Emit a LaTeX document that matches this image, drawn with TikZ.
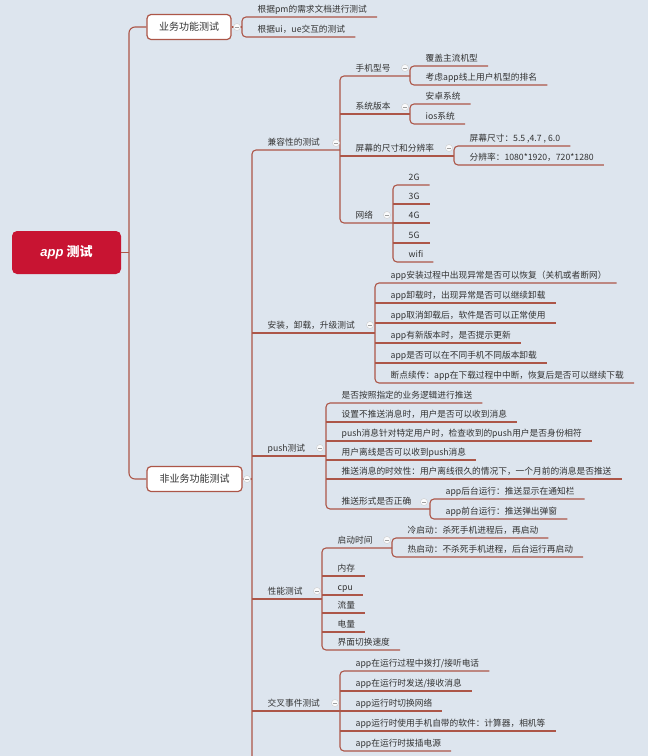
\documentclass[tikz,border=0pt]{standalone}
\usepackage{fontspec}
\setmainfont{Noto Sans CJK SC}
\newfontfamily\appfont{Liberation Sans}
\definecolor{bg}{RGB}{221,229,238}
\definecolor{lc}{RGB}{172,86,72}
\definecolor{txt}{RGB}{50,50,50}
\definecolor{rootred}{RGB}{200,20,50}
\begin{document}
\begin{tikzpicture}[x=1pt,y=-1pt,
  conn/.style={draw=lc, line width=1.1pt},
  rcorner/.style={rounded corners=4pt},
  lbl/.style={anchor=south west, inner xsep=0pt, inner ysep=2.5pt, text height=7pt, text depth=2pt,
    font=\fontsize{8.7}{10}\selectfont, text=txt, execute at begin node={\hspace*{15.5pt}}},
  leaf/.style={lbl, execute at end node={\hspace*{10pt}}},
  box/.style={draw=lc, line width=1.2pt, fill=white, rounded corners=4pt, minimum height=25pt,
    inner sep=0pt, font=\fontsize{10}{12}\selectfont, text=txt},
  rootbox/.style={fill=rootred, rounded corners=5pt, minimum width=109pt, minimum height=43pt,
    inner sep=0pt, text=white, font=\fontsize{13}{15}\selectfont\bfseries},
  tog/.style={circle, draw=gray!40, fill=white!85!bg, line width=0.4pt, minimum size=7pt, inner sep=0pt,
    path picture={\draw[gray!75, line width=0.5pt] ([xshift=-1.7pt]path picture bounding box.center) -- ([xshift=1.7pt]path picture bounding box.center);}}
]
\fill[bg] (0,0) rectangle (648,756);
\useasboundingbox (0,0) rectangle (648,756);
\clip (0,0) rectangle (648,756);

% ---------- root and level 1 ----------
\node[rootbox] (root) at (66.5,252.5) {{\appfont\bfseries\itshape app} 测试};
\node[box, minimum width=84pt] (biz) at (189,27) {业务功能测试};
\node[box, minimum width=95pt] (nonbiz) at (194.5,479) {非业务功能测试};
\coordinate (trunk) at (129,252.5);
\draw[conn] (root.east) -- (trunk);
\draw[conn, rounded corners=6pt] (biz.west) -| (trunk) |- (nonbiz.west);

% ---------- business ----------
\coordinate (bizB) at (242,27);
\draw[conn] (biz.east) -- (bizB);
\node[leaf] (b1) at (242,17) {根据pm的需求文档进行测试};
\node[leaf] (b2) at (242,37) {根据ui，ue交互的测试};
\draw[conn, rcorner] (b1.south east) -- (b1.south west) -- (b2.south west) -- (b2.south east);

% ---------- non-business ----------
\coordinate (nbB) at (252,479);
\coordinate (nbEnd) at (252,800);
\draw[conn] (nonbiz.east) -- (nbB);
\node[lbl] (compat) at (252,150) {兼容性的测试};
\node[lbl] (install) at (252,333) {安装，卸载，升级测试};
\node[lbl] (push) at (252,456) {push测试};
\node[lbl] (perf) at (252,599) {性能测试};
\node[lbl] (cross) at (252,711) {交叉事件测试};
\coordinate (compatB) at (340,150);
\coordinate (installB) at (375,333);
\coordinate (pushB) at (326,456);
\coordinate (perfB) at (322,599);
\coordinate (crossB) at (340,711);
\draw[conn, rcorner] (compatB) -- (compat.south west) -- (nbEnd);
\draw[conn] (install.south west) -- (installB);
\draw[conn] (push.south west) -- (pushB);
\draw[conn] (perf.south west) -- (perfB);
\draw[conn] (cross.south west) -- (crossB);

% ---------- compatibility ----------
\node[lbl] (phone) at (340,76) {手机型号};
\node[lbl] (sysv) at (340,114) {系统版本};
\node[lbl] (screen) at (340,156) {屏幕的尺寸和分辨率};
\node[lbl] (net) at (340,223) {网络};
\coordinate (phoneB) at (410,76);
\coordinate (sysvB) at (410,114);
\coordinate (screenB) at (454,156);
\coordinate (netB) at (393,223);
\draw[conn, rcorner] (phoneB) -- (phone.south west) -- (net.south west) -- (netB);
\draw[conn] (sysv.south west) -- (sysvB);
\draw[conn] (screen.south west) -- (screenB);

\node[leaf] (p1) at (410,66) {覆盖主流机型};
\node[leaf] (p2) at (410,85) {考虑app线上用户机型的排名};
\draw[conn, rcorner] (p1.south east) -- (p1.south west) -- (p2.south west) -- (p2.south east);

\node[leaf] (s1) at (410,104) {安卓系统};
\node[leaf] (s2) at (410,124) {ios系统};
\draw[conn, rcorner] (s1.south east) -- (s1.south west) -- (s2.south west) -- (s2.south east);

\node[leaf] (r1) at (454,146) {屏幕尺寸：5.5 ,4.7 , 6.0};
\node[leaf] (r2) at (454,165) {分辨率：1080*1920，720*1280};
\draw[conn, rcorner] (r1.south east) -- (r1.south west) -- (r2.south west) -- (r2.south east);

\node[leaf] (n1) at (393,185) {2G};
\node[leaf] (n2) at (393,204) {3G};
\node[leaf] (n3) at (393,223) {4G};
\node[leaf] (n4) at (393,243) {5G};
\node[leaf] (n5) at (393,262) {wifi};
\draw[conn, rcorner] (n1.south east) -- (n1.south west) -- (n5.south west) -- (n5.south east);
\foreach \n in {n2,n3,n4} \draw[conn] (\n.south west) -- (\n.south east);

% ---------- install ----------
\node[leaf] (i1) at (375,283) {app安装过程中出现异常是否可以恢复（关机或者断网）};
\node[leaf] (i2) at (375,303) {app卸载时，出现异常是否可以继续卸载};
\node[leaf] (i3) at (375,323) {app取消卸载后，软件是否可以正常使用};
\node[leaf] (i4) at (375,343) {app有新版本时，是否提示更新};
\node[leaf] (i5) at (375,363) {app是否可以在不同手机不同版本卸载};
\node[leaf] (i6) at (375,383) {断点续传：app在下载过程中中断，恢复后是否可以继续下载};
\draw[conn, rcorner] (i1.south east) -- (i1.south west) -- (i6.south west) -- (i6.south east);
\foreach \n in {i2,i3,i4,i5} \draw[conn] (\n.south west) -- (\n.south east);

% ---------- push ----------
\node[leaf] (u1) at (326,403) {是否按照指定的业务逻辑进行推送};
\node[leaf] (u2) at (326,422) {设置不推送消息时，用户是否可以收到消息};
\node[leaf] (u3) at (326,441) {push消息针对特定用户时，检查收到的push用户是否身份相符};
\node[leaf] (u4) at (326,460) {用户离线是否可以收到push消息};
\node[leaf] (u5) at (326,479) {推送消息的时效性：用户离线很久的情况下，一个月前的消息是否推送};
\node[lbl] (u6) at (326,509) {推送形式是否正确};
\coordinate (u6B) at (430,509);
\draw[conn, rcorner] (u1.south east) -- (u1.south west) -- (u6.south west) -- (u6B);
\foreach \n in {u2,u3,u4,u5} \draw[conn] (\n.south west) -- (\n.south east);
\node[leaf] (f1) at (430,499) {app后台运行：推送显示在通知栏};
\node[leaf] (f2) at (430,519) {app前台运行：推送弹出弹窗};
\draw[conn, rcorner] (f1.south east) -- (f1.south west) -- (f2.south west) -- (f2.south east);

% ---------- performance ----------
\node[lbl] (st) at (322,548) {启动时间};
\coordinate (stB) at (392,548);
\node[leaf] (e2) at (322,576) {内存};
\node[leaf] (e3) at (322,595) {cpu};
\node[leaf] (e4) at (322,613) {流量};
\node[leaf] (e5) at (322,632) {电量};
\node[leaf] (e6) at (322,650) {界面切换速度};
\draw[conn, rcorner] (stB) -- (st.south west) -- (e6.south west) -- (e6.south east);
\foreach \n in {e2,e3,e4,e5} \draw[conn] (\n.south west) -- (\n.south east);
\node[leaf] (c1) at (392,538) {冷启动：杀死手机进程后，再启动};
\node[leaf] (c2) at (392,557) {热启动：不杀死手机进程，后台运行再启动};
\draw[conn, rcorner] (c1.south east) -- (c1.south west) -- (c2.south west) -- (c2.south east);

% ---------- cross events ----------
\node[leaf] (x1) at (340,671) {app在运行过程中拨打/接听电话};
\node[leaf] (x2) at (340,691) {app在运行时发送/接收消息};
\node[leaf] (x3) at (340,711) {app运行时切换网络};
\node[leaf] (x4) at (340,731) {app运行时使用手机自带的软件：计算器，相机等};
\node[leaf] (x5) at (340,751) {app在运行时拔插电源};
\draw[conn, rcorner] (x1.south east) -- (x1.south west) -- (x5.south west) -- (x5.south east);
\foreach \n in {x2,x3,x4} \draw[conn] (\n.south west) -- (\n.south east);

% ---------- collapse markers ----------
\node[tog] (t1) at (237,27) {};
\node[tog] (t2) at (247,479) {};
\node[tog] (t3) at (336,143) {};
\node[tog] (t4) at (405,68) {};
\node[tog] (t5) at (405,107) {};
\node[tog] (t6) at (449,148) {};
\node[tog] (t7) at (387,215) {};
\node[tog] (t8) at (370,325) {};
\node[tog] (t9) at (320,448) {};
\node[tog] (t10) at (424,502) {};
\node[tog] (t11) at (317,591) {};
\node[tog] (t12) at (387,540) {};
\node[tog] (t13) at (335,703) {};
\end{tikzpicture}
\end{document}
